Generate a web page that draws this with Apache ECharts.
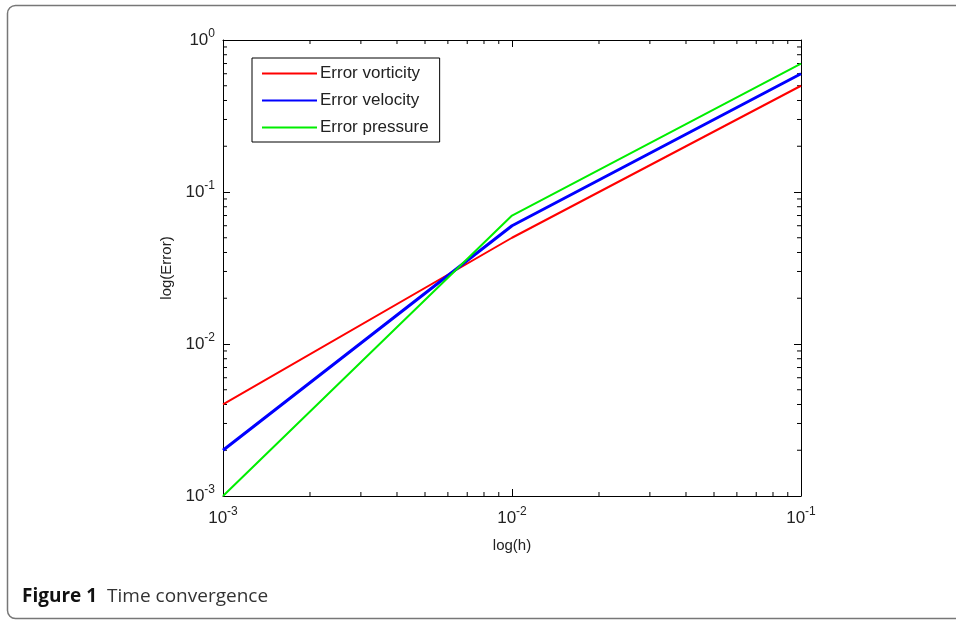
<!DOCTYPE html>
<html>
<head>
<meta charset="utf-8">
<script src="https://cdn.jsdelivr.net/npm/echarts@6/dist/echarts.min.js"></script>
<style>
  html, body { margin: 0; padding: 0; background: #fff; }
  #main { width: 956px; height: 621px; }
</style>
</head>
<body>
<div id="main"></div>
<script>
// step sizes h and errors
var hValues = [0.001, 0.01, 0.1];
var errVorticity = [0.004, 0.05, 0.5];
var errVelocity = [0.002, 0.06, 0.6];
var errPressure = [0.001, 0.07, 0.7];
var seriesNames = ['Error vorticity', 'Error velocity', 'Error pressure'];

var xMin = 0.001, xMax = 0.1;
var yMin = 0.001, yMax = 1;

// minor log ticks (2..9 x each decade)
function minorTicks(lo, hi) {
    var out = [];
    for (var d = lo; d < hi; d *= 10) {
        for (var k = 2; k <= 9; k++) out.push(+(k * d).toPrecision(3));
    }
    return out;
}
var minorX = minorTicks(xMin, xMax);
var minorY = minorTicks(yMin, yMax);

function pairs(xs, ys) {
    return xs.map(function (x, i) { return [x, ys[i]]; });
}

var fontFam = '"Liberation Sans", Arial, sans-serif';

function powLabel(v) {
    var e = Math.round(Math.log10(v));
    return '10{s|' + e + '}';
}
var labelRich = {
    s: { fontSize: 12, fontFamily: fontFam, color: '#222', padding: [0, 0, 13, 0] }
};

var myChart = echarts.init(document.getElementById('main'));

var option = {
    backgroundColor: '#fff',
    animation: false,
    graphic: [
        {
            type: 'rect',
            shape: { x: 7.5, y: 5.5, width: 1000, height: 613, r: 8 },
            style: { fill: 'none', stroke: '#777', lineWidth: 1.5 },
            silent: true
        },
        {
            type: 'text',
            left: 22,
            top: 587,
            style: {
                text: '{b|Figure 1}   {n|Time convergence}',
                rich: {
                    b: { fontFamily: '"Open Sans", sans-serif', fontWeight: 'bold', fontSize: 19, fill: '#111' },
                    n: { fontFamily: '"Open Sans", sans-serif', fontSize: 19, fill: '#333' }
                }
            }
        }
    ],
    legend: {
        data: seriesNames,
        orient: 'vertical',
        left: 252,
        top: 58,
        backgroundColor: '#fff',
        borderColor: '#000',
        borderWidth: 1,
        padding: [7, 11, 6, 10],
        itemGap: 10,
        itemWidth: 55,
        itemHeight: 18,
        icon: 'path://M0,8 L55,8 L55,10 L0,10 Z',
        textStyle: { fontFamily: fontFam, fontSize: 17, color: '#222', padding: [0, 0, 0, -2] }
    },
    grid: {
        left: 223,
        right: 155,
        top: 40,
        bottom: 125,
        show: false
    },
    xAxis: [
        {
            type: 'log',
            logBase: 10,
            min: xMin,
            max: xMax,
            name: 'log(h)',
            nameLocation: 'middle',
            nameGap: 42,
            nameTextStyle: { fontFamily: fontFam, fontSize: 15, color: '#222' },
            axisLine: { lineStyle: { color: '#000', width: 1 } },
            axisTick: { inside: true, length: 7, lineStyle: { color: '#000' } },
            axisLabel: {
                formatter: powLabel,
                rich: labelRich,
                fontFamily: fontFam,
                fontSize: 17,
                color: '#222',
                margin: 10
            },
            splitLine: { show: false }
        },
        {
            type: 'log',
            logBase: 10,
            position: 'top',
            min: xMin,
            max: xMax,
            axisLine: { lineStyle: { color: '#000', width: 1 } },
            axisTick: { inside: true, length: 7, lineStyle: { color: '#000' } },
            axisLabel: { show: false },
            splitLine: { show: false }
        }
    ],
    yAxis: [
        {
            type: 'log',
            logBase: 10,
            min: yMin,
            max: yMax,
            name: 'log(Error)',
            nameLocation: 'middle',
            nameGap: 48,
            nameRotate: 90,
            nameTextStyle: { fontFamily: fontFam, fontSize: 15, color: '#222' },
            axisLine: { show: true, lineStyle: { color: '#000', width: 1 } },
            axisTick: { show: true, inside: true, length: 7, lineStyle: { color: '#000' } },
            axisLabel: {
                formatter: powLabel,
                rich: labelRich,
                fontFamily: fontFam,
                fontSize: 17,
                color: '#222',
                margin: 8
            },
            splitLine: { show: false }
        },
        {
            type: 'log',
            logBase: 10,
            position: 'right',
            min: yMin,
            max: yMax,
            axisLine: { show: true, lineStyle: { color: '#000', width: 1 } },
            axisTick: { show: true, inside: true, length: 7, lineStyle: { color: '#000' } },
            axisLabel: { show: false },
            splitLine: { show: false }
        }
    ],
    series: [
        {
            name: seriesNames[0],
            type: 'line',
            data: pairs(hValues, errVorticity),
            symbol: 'none',
            color: '#ff0000',
            lineStyle: { width: 2, color: '#ff0000' },
            z: 3
        },
        {
            name: seriesNames[1],
            type: 'line',
            data: pairs(hValues, errVelocity),
            symbol: 'none',
            color: '#0000ff',
            lineStyle: { width: 3, color: '#0000ff' },
            z: 4
        },
        {
            name: seriesNames[2],
            type: 'line',
            data: pairs(hValues, errPressure),
            symbol: 'none',
            color: '#00ee00',
            lineStyle: { width: 2, color: '#00ee00' },
            z: 5
        },
        {
            // minor ticks on bottom/top axes
            name: 'minorX',
            type: 'custom',
            silent: true,
            data: minorX.map(function (v) { return [v, yMin]; }),
            renderItem: function (params, api) {
                var b = api.coord([api.value(0), yMin]);
                var t = api.coord([api.value(0), yMax]);
                var st = { stroke: '#000', lineWidth: 1 };
                return {
                    type: 'group',
                    children: [
                        { type: 'line', shape: { x1: b[0], y1: b[1], x2: b[0], y2: b[1] - 4 }, style: st },
                        { type: 'line', shape: { x1: t[0], y1: t[1], x2: t[0], y2: t[1] + 4 }, style: st }
                    ]
                };
            }
        },
        {
            // minor ticks on left/right axes
            name: 'minorY',
            type: 'custom',
            silent: true,
            data: minorY.map(function (v) { return [xMin, v]; }),
            renderItem: function (params, api) {
                var l = api.coord([xMin, api.value(1)]);
                var r = api.coord([xMax, api.value(1)]);
                var st = { stroke: '#000', lineWidth: 1 };
                return {
                    type: 'group',
                    children: [
                        { type: 'line', shape: { x1: l[0], y1: l[1], x2: l[0] + 4, y2: l[1] }, style: st },
                        { type: 'line', shape: { x1: r[0], y1: r[1], x2: r[0] - 4, y2: r[1] }, style: st }
                    ]
                };
            }
        }
    ]
};

myChart.setOption(option);
</script>
</body>
</html>
